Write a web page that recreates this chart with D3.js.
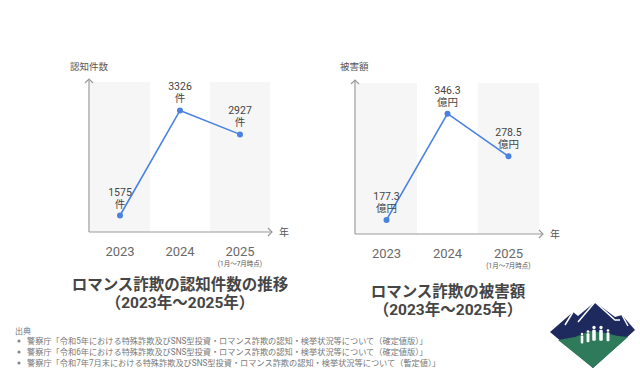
<!DOCTYPE html>
<html><head><meta charset="utf-8">
<script src="https://cdn.jsdelivr.net/npm/d3@7"></script>
<style>
body{margin:0;background:#fff;}
svg{display:block;font-family:Roboto,"Noto Sans CJK JP",sans-serif;}
</style></head>
<body>
<svg id="c" width="640" height="380"></svg>
<script>
const years = ["2023","2024","2025"];
const countValues = [1575, 3326, 2927];
const countLabels = ["1575","3326","2927"];
const damageValues = [177.3, 346.3, 278.5];
const damageLabels = ["177.3","346.3","278.5"];
const countUnit = "件";
const damageUnit = "億円";
const note2025 = "(1月〜7月時点)";
const sources = [
  "警察庁「令和5年における特殊詐欺及びSNS型投資・ロマンス詐欺の認知・検挙状況等について（確定値版）」",
  "警察庁「令和6年における特殊詐欺及びSNS型投資・ロマンス詐欺の認知・検挙状況等について（確定値版）」",
  "警察庁「令和7年7月末における特殊詐欺及びSNS型投資・ロマンス詐欺の認知・検挙状況等について（暫定値）」"
];

const svg = d3.select("#c");
const blue = "#4a82e0", axisC = "#9a9a9a";

function panel(cfg){
  const g = svg.append("g");
  const x = d3.scaleBand().domain(years).range([cfg.x0, cfg.x1]).padding(0);
  const y = d3.scaleLinear().domain(cfg.domain).range([cfg.yb, cfg.yt]);
  g.selectAll("rect.band").data(years.filter((d,i)=>i!==1)).join("rect")
    .attr("x", d=>x(d)).attr("y", cfg.yt).attr("width", x.bandwidth()).attr("height", cfg.yb-cfg.yt)
    .attr("fill","#f6f6f6");
  const ax = cfg.x0 - 1;
  g.append("line").attr("x1",ax).attr("x2",ax).attr("y1",cfg.yb).attr("y2",cfg.yt-3).attr("stroke",axisC).attr("stroke-width",1.2);
  g.append("path").attr("d",`M${ax-4},${cfg.yt+1}L${ax},${cfg.yt-3}L${ax+4},${cfg.yt+1}`).attr("fill","none").attr("stroke",axisC).attr("stroke-width",1.2);
  g.append("line").attr("x1",ax).attr("x2",cfg.xe).attr("y1",cfg.yb).attr("y2",cfg.yb).attr("stroke",axisC).attr("stroke-width",1.2);
  g.append("path").attr("d",`M${cfg.xe-4},${cfg.yb-4}L${cfg.xe},${cfg.yb}L${cfg.xe-4},${cfg.yb+4}`).attr("fill","none").attr("stroke",axisC).attr("stroke-width",1.2);
  g.append("text").attr("x",cfg.xe+7).attr("y",cfg.yb+4).attr("font-size",10).attr("fill","#555").text("年");
  g.append("text").attr("x",cfg.yLabelX).attr("y",70).attr("font-size",9.5).attr("fill","#555").text(cfg.yLabel);
  g.selectAll("text.yr").data(years).join("text")
    .attr("x",d=>x(d)+x.bandwidth()/2).attr("y",cfg.yb+24).attr("text-anchor","middle")
    .attr("font-size",13).attr("fill","#6a6a6a").text(d=>d);
  g.append("text").attr("x",x("2025")+x.bandwidth()/2).attr("y",cfg.yb+34).attr("text-anchor","middle")
    .attr("font-size",6.5).attr("fill","#555").text(note2025);
  const line = d3.line().x((d,i)=>x(years[i])+x.bandwidth()/2).y(d=>y(d));
  g.append("path").attr("d",line(cfg.values)).attr("fill","none").attr("stroke",blue).attr("stroke-width",1.6);
  g.selectAll("circle").data(cfg.values).join("circle")
    .attr("cx",(d,i)=>x(years[i])+x.bandwidth()/2).attr("cy",d=>y(d)).attr("r",3).attr("fill",blue);
  cfg.values.forEach((v,i)=>{
    const cx = x(years[i])+x.bandwidth()/2, cy = y(v);
    g.append("text").attr("x",cx).attr("y",cy-20).attr("text-anchor","middle").attr("font-size",10.5).attr("fill","#444").text(cfg.labels[i]);
    g.append("text").attr("x",cx).attr("y",cy-8).attr("text-anchor","middle").attr("font-size",10.5).attr("fill","#444").text(cfg.unit);
  });
  g.append("text").attr("x",cfg.tx).attr("y",cfg.ty).attr("text-anchor","middle").attr("font-size",15.5).attr("font-weight","bold").attr("fill","#454545").text(cfg.title);
  g.append("text").attr("x",cfg.tx).attr("y",cfg.ty+18).attr("text-anchor","middle").attr("font-size",15.5).attr("font-weight","bold").attr("fill","#454545").text("（2023年〜2025年）");
}

panel({x0:90,x1:270,xe:272,yt:82,yb:232,domain:[1300,3800],values:countValues,labels:countLabels,unit:countUnit,
  yLabel:"認知件数",yLabelX:70,title:"ロマンス詐欺の認知件数の推移",tx:180,ty:290});
panel({x0:356,x1:539,xe:543,yt:83,yb:234,domain:[155,395],values:damageValues,labels:damageLabels,unit:damageUnit,
  yLabel:"被害額",yLabelX:340,title:"ロマンス詐欺の被害額",tx:448,ty:297});

svg.append("text").attr("x",15).attr("y",334).attr("font-size",8).attr("fill","#777").text("出典");
sources.forEach((s,i)=>{
  const yy = 344 + i*11;
  svg.append("circle").attr("cx",19).attr("cy",yy-3).attr("r",1.6).attr("fill","#888");
  svg.append("text").attr("x",27).attr("y",yy).attr("font-size",8.2).attr("fill","#777").text(s);
});

const lg = svg.append("g");
lg.append("path").attr("d","M550,332L573,312L578,316L595,302L615,317L622,315L635,330L593,368Z").attr("fill","#1e2a5e");
lg.append("path").attr("d","M558,340L575,337L590,331L605,333L618,336L628,337L593,368Z").attr("fill","#2f7a5b");
lg.append("path").attr("d","M595,302L578,322M573,312L565,325M595,302L615,320L620,320M622,315L628,326").attr("stroke","#fff").attr("stroke-width",1.5).attr("fill","none");
[[582,338,0.8],[588,336,0.9],[594,333,1.1],[601,333,1.1],[608,335,0.9]].forEach(([px,py,s])=>{
  lg.append("circle").attr("cx",px).attr("cy",py-5*s).attr("r",1.5*s).attr("fill","#fff");
  lg.append("rect").attr("x",px-1.6*s).attr("y",py-3*s).attr("width",3.2*s).attr("height",10*s).attr("rx",1).attr("fill","#fff");
});
</script>
</body></html>
